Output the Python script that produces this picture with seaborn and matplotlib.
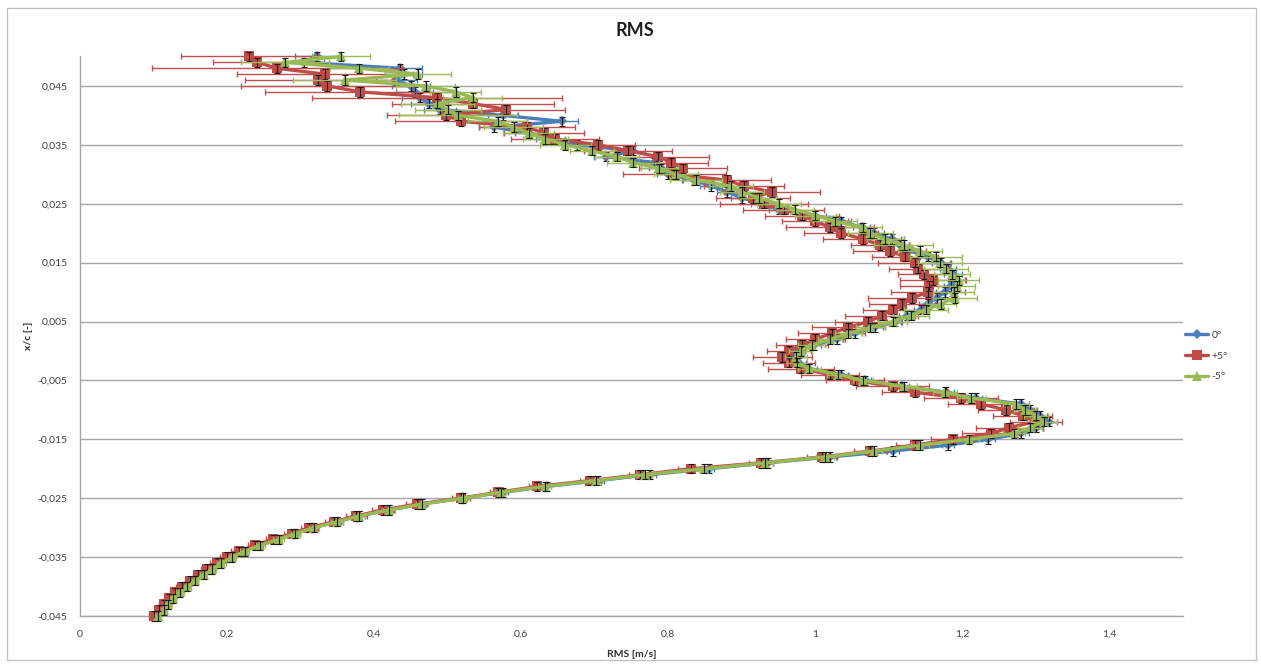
import matplotlib
matplotlib.use("Agg")
import matplotlib.pyplot as plt
from matplotlib.patches import Rectangle
from matplotlib.ticker import FuncFormatter, FixedLocator
import numpy as np
import pandas as pd
import seaborn as sns

# measurement stations along the chord, x/c [-]
xc = [
    -0.045, -0.044, -0.043, -0.042, -0.041, -0.040, -0.039, -0.038, -0.037, -0.036,
    -0.035, -0.034, -0.033, -0.032, -0.031, -0.030, -0.029, -0.028, -0.027, -0.026,
    -0.025, -0.024, -0.023, -0.022, -0.021, -0.020, -0.019, -0.018, -0.017, -0.016,
    -0.015, -0.014, -0.013, -0.012, -0.011, -0.010, -0.009, -0.008, -0.007, -0.006,
    -0.005, -0.004, -0.003, -0.002, -0.001, 0.000, 0.001, 0.002, 0.003, 0.004,
    0.005, 0.006, 0.007, 0.008, 0.009, 0.010, 0.011, 0.012, 0.013, 0.014,
    0.015, 0.016, 0.017, 0.018, 0.019, 0.020, 0.021, 0.022, 0.023, 0.024,
    0.025, 0.026, 0.027, 0.028, 0.029, 0.030, 0.031, 0.032, 0.033, 0.034,
    0.035, 0.036, 0.037, 0.038, 0.039, 0.040, 0.041, 0.042, 0.043, 0.044,
    0.045, 0.046, 0.047, 0.048, 0.049, 0.050,
]

# RMS velocity [m/s] for each incidence
rms_0 = [
    0.104, 0.113, 0.119, 0.126, 0.135, 0.144, 0.155, 0.167, 0.178, 0.190,
    0.205, 0.222, 0.243, 0.268, 0.291, 0.316, 0.349, 0.380, 0.420, 0.464,
    0.520, 0.575, 0.635, 0.705, 0.775, 0.855, 0.935, 1.020, 1.105, 1.180,
    1.235, 1.280, 1.300, 1.318, 1.305, 1.292, 1.280, 1.218, 1.178, 1.118,
    1.068, 1.035, 0.992, 0.978, 0.970, 0.977, 0.998, 1.029, 1.054, 1.081,
    1.108, 1.125, 1.144, 1.153, 1.165, 1.176, 1.185, 1.192, 1.187, 1.180,
    1.171, 1.153, 1.128, 1.115, 1.104, 1.080, 1.063, 1.035, 1.000, 0.950,
    0.926, 0.900, 0.880, 0.858, 0.835, 0.800, 0.790, 0.781, 0.716, 0.752,
    0.676, 0.640, 0.610, 0.563, 0.655, 0.575, 0.490, 0.475, 0.462, 0.455,
    0.450, 0.430, 0.440, 0.435, 0.304, 0.322,
]
rms_p5 = [
    0.100, 0.108, 0.114, 0.121, 0.129, 0.139, 0.150, 0.161, 0.173, 0.186,
    0.200, 0.216, 0.238, 0.262, 0.288, 0.312, 0.345, 0.376, 0.412, 0.458,
    0.518, 0.568, 0.622, 0.694, 0.762, 0.831, 0.926, 1.009, 1.075, 1.135,
    1.187, 1.239, 1.264, 1.300, 1.282, 1.259, 1.225, 1.198, 1.135, 1.105,
    1.054, 1.020, 0.980, 0.964, 0.955, 0.964, 0.982, 1.000, 1.022, 1.045,
    1.072, 1.090, 1.105, 1.118, 1.131, 1.153, 1.155, 1.160, 1.148, 1.140,
    1.135, 1.122, 1.101, 1.088, 1.065, 1.035, 1.020, 1.000, 0.982, 0.957,
    0.930, 0.915, 0.941, 0.903, 0.880, 0.808, 0.820, 0.804, 0.786, 0.745,
    0.705, 0.646, 0.631, 0.608, 0.518, 0.498, 0.580, 0.534, 0.486, 0.381,
    0.336, 0.324, 0.333, 0.268, 0.241, 0.230,
]
rms_m5 = [
    0.106, 0.114, 0.120, 0.127, 0.136, 0.146, 0.156, 0.168, 0.180, 0.192,
    0.207, 0.224, 0.245, 0.270, 0.293, 0.318, 0.350, 0.380, 0.420, 0.465,
    0.521, 0.572, 0.632, 0.702, 0.768, 0.849, 0.932, 1.013, 1.080, 1.142,
    1.209, 1.270, 1.292, 1.311, 1.300, 1.285, 1.273, 1.212, 1.176, 1.120,
    1.065, 1.031, 0.992, 0.975, 0.974, 0.980, 0.995, 1.020, 1.045, 1.075,
    1.105, 1.130, 1.150, 1.171, 1.190, 1.188, 1.192, 1.195, 1.186, 1.178,
    1.170, 1.164, 1.142, 1.120, 1.095, 1.075, 1.065, 1.027, 1.000, 0.973,
    0.950, 0.923, 0.900, 0.885, 0.838, 0.810, 0.788, 0.752, 0.730, 0.696,
    0.660, 0.633, 0.610, 0.590, 0.568, 0.514, 0.500, 0.486, 0.534, 0.511,
    0.470, 0.360, 0.460, 0.380, 0.279, 0.355,
]

# horizontal uncertainty on RMS [m/s]
err_0 = [
    0.004, 0.004, 0.004, 0.005, 0.004, 0.004, 0.005, 0.004, 0.005, 0.005,
    0.005, 0.005, 0.006, 0.005, 0.006, 0.006, 0.006, 0.007, 0.006, 0.007,
    0.006, 0.007, 0.006, 0.007, 0.008, 0.007, 0.008, 0.008, 0.009, 0.008,
    0.009, 0.010, 0.009, 0.010, 0.010, 0.009, 0.010, 0.009, 0.010, 0.009,
    0.008, 0.009, 0.010, 0.009, 0.008, 0.009, 0.010, 0.009, 0.010, 0.011,
    0.010, 0.011, 0.010, 0.012, 0.011, 0.012, 0.010, 0.011, 0.012, 0.011,
    0.012, 0.011, 0.012, 0.013, 0.012, 0.013, 0.012, 0.013, 0.014, 0.013,
    0.014, 0.015, 0.014, 0.015, 0.016, 0.015, 0.016, 0.018, 0.017, 0.016,
    0.018, 0.020, 0.018, 0.020, 0.022, 0.020, 0.022, 0.025, 0.024, 0.025,
    0.026, 0.028, 0.025, 0.030, 0.028, 0.030,
]
err_p5 = [
    0.006, 0.006, 0.007, 0.006, 0.007, 0.008, 0.007, 0.008, 0.008, 0.009,
    0.009, 0.010, 0.010, 0.009, 0.011, 0.012, 0.012, 0.014, 0.015, 0.014,
    0.012, 0.010, 0.012, 0.014, 0.016, 0.018, 0.016, 0.020, 0.022, 0.025,
    0.030, 0.040, 0.045, 0.035, 0.040, 0.038, 0.045, 0.050, 0.045, 0.050,
    0.040, 0.040, 0.045, 0.035, 0.040, 0.030, 0.035, 0.040, 0.045, 0.050,
    0.045, 0.050, 0.040, 0.045, 0.060, 0.050, 0.040, 0.045, 0.035, 0.040,
    0.050, 0.045, 0.050, 0.040, 0.055, 0.050, 0.060, 0.045, 0.050, 0.055,
    0.060, 0.050, 0.065, 0.055, 0.060, 0.070, 0.060, 0.050, 0.070, 0.060,
    0.050, 0.060, 0.055, 0.065, 0.090, 0.080, 0.080, 0.110, 0.170, 0.130,
    0.117, 0.100, 0.120, 0.170, 0.060, 0.093,
]
err_m5 = [
    0.004, 0.004, 0.005, 0.004, 0.005, 0.005, 0.004, 0.005, 0.005, 0.006,
    0.005, 0.006, 0.006, 0.007, 0.006, 0.007, 0.008, 0.007, 0.008, 0.008,
    0.007, 0.008, 0.009, 0.008, 0.010, 0.009, 0.010, 0.012, 0.011, 0.012,
    0.014, 0.015, 0.016, 0.018, 0.016, 0.015, 0.018, 0.020, 0.016, 0.018,
    0.014, 0.015, 0.016, 0.014, 0.015, 0.016, 0.018, 0.016, 0.018, 0.020,
    0.020, 0.025, 0.030, 0.020, 0.030, 0.028, 0.025, 0.028, 0.025, 0.030,
    0.030, 0.035, 0.030, 0.040, 0.025, 0.030, 0.025, 0.030, 0.028, 0.025,
    0.030, 0.025, 0.030, 0.030, 0.035, 0.030, 0.025, 0.035, 0.030, 0.030,
    0.035, 0.030, 0.035, 0.040, 0.040, 0.080, 0.045, 0.050, 0.040, 0.035,
    0.040, 0.070, 0.045, 0.040, 0.060, 0.040,
]

# uncertainty on the probe position x/c [-]
pos_err = 0.0008

labels = ["0°", "+5°", "-5°"]
rms_sets = [rms_0, rms_p5, rms_m5]
err_sets = [err_0, err_p5, err_m5]
markers = ["D", "s", "^"]
msizes = [5.5, 6.5, 7.0]
line_colors = ["#4A7EBB", "#BE4B48", "#98B954"]
bar_colors = ["#4A7EBB", "#C0504D", "#9BBB59"]

sns.set_theme(style="white")
plt.rcParams["font.family"] = ["Lato", "DejaVu Sans"]

W, H, DPI = 1261, 666, 100
fig = plt.figure(figsize=(W / DPI, H / DPI), dpi=DPI)
fig.patch.set_facecolor("white")

# outer chart border
fig.patches.append(Rectangle((7 / W, 1 - 660 / H), (1256 - 7) / W, (660 - 8) / H,
                             transform=fig.transFigure, fill=False,
                             edgecolor="#BFBFBF", linewidth=0.9))

left, right, bottom, top = 80, 1183, 616, 56.5
ax = fig.add_axes([left / W, 1 - bottom / H, (right - left) / W, (bottom - top) / H])
ax.set_facecolor("white")

for i, (lab, rms, err) in enumerate(zip(labels, rms_sets, err_sets)):
    df = pd.DataFrame({"rms": rms, "xc": xc})
    sns.lineplot(data=df, x="rms", y="xc", sort=False, estimator=None, ax=ax,
                 color=line_colors[i], linewidth=2.4, marker=markers[i],
                 markersize=msizes[i], markeredgewidth=0, label=lab,
                 zorder=3 + i, clip_on=False)
    ax.errorbar(rms, xc, xerr=err, fmt="none", ecolor=bar_colors[i],
                elinewidth=1.0, capsize=2.2, capthick=1.0, zorder=3 + i + 0.5,
                clip_on=False)
    ax.errorbar(rms, xc, yerr=pos_err, fmt="none", ecolor="#1a1a1a",
                elinewidth=0.8, capsize=2.2, capthick=0.8, zorder=3 + i + 0.6,
                clip_on=False)

ax.set_xlim(0, 1.5)
ax.set_ylim(-0.045, 0.050)
ax.xaxis.set_major_locator(FixedLocator([0, 0.2, 0.4, 0.6, 0.8, 1.0, 1.2, 1.4]))
ax.yaxis.set_major_locator(FixedLocator([-0.045, -0.035, -0.025, -0.015, -0.005,
                                         0.005, 0.015, 0.025, 0.035, 0.045]))


def comma_fmt(v, _pos):
    if abs(v) < 1e-12:
        return "0"
    s = ("%.3f" % v).rstrip("0").rstrip(".")
    return s.replace(".", ",")


ax.xaxis.set_major_formatter(FuncFormatter(comma_fmt))
ax.yaxis.set_major_formatter(FuncFormatter(comma_fmt))
ax.tick_params(axis="both", labelsize=7.5, colors="#404040", length=0)
ax.tick_params(axis="x", pad=10)
ax.tick_params(axis="y", pad=9)

ax.grid(axis="y", color="#A6A6A6", linewidth=1.0, zorder=0)
ax.grid(axis="x", visible=False)
for side in ["top", "right"]:
    ax.spines[side].set_visible(False)
for side in ["left", "bottom"]:
    ax.spines[side].set_color("#A6A6A6")
    ax.spines[side].set_linewidth(1.0)

ax.set_xlabel("RMS [m/s]", fontsize=7.5, fontweight="bold", color="#303030", labelpad=8)
ax.set_ylabel("x/c [-]", fontsize=7.5, fontweight="bold", color="#303030")
ax.yaxis.set_label_coords((33 - left) / (right - left), 0.5)
fig.text(635 / W, 1 - 30 / H, "RMS", ha="center", va="center",
         fontsize=13, fontweight="bold", color="#202020")

handles, labs = ax.get_legend_handles_labels()
ax.get_legend().remove()
leg = fig.legend(handles, labs, loc="center left",
                 bbox_to_anchor=(1176 / W, 1 - 356 / H), frameon=False,
                 fontsize=7.5, handlelength=2.2, labelspacing=1.1,
                 handletextpad=0.3)
for t in leg.get_texts():
    t.set_color("#404040")

fig.savefig("out.png", dpi=DPI, facecolor="white")
